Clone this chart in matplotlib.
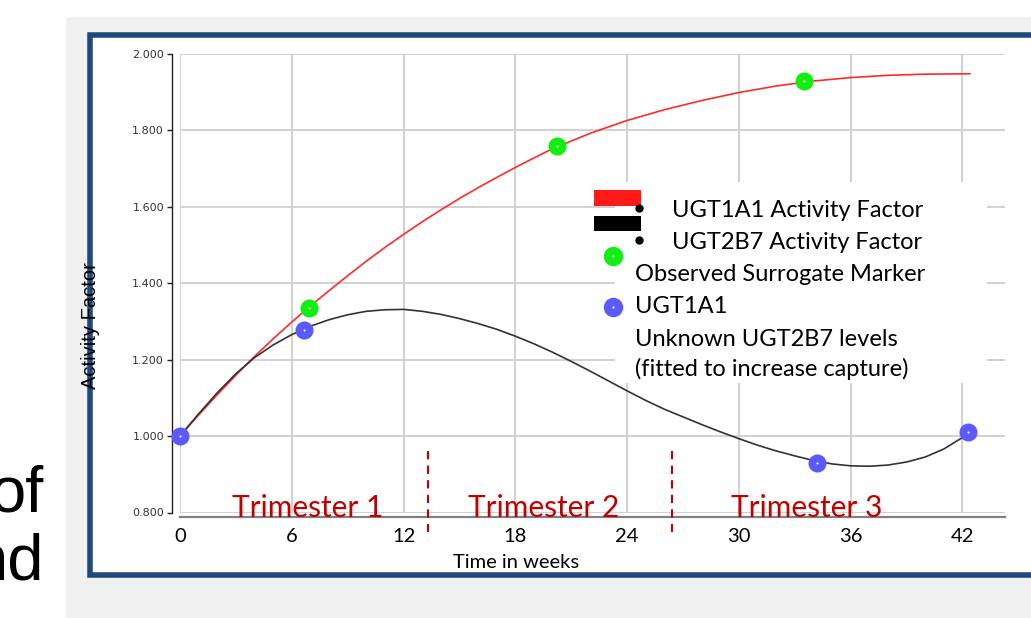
import matplotlib
matplotlib.use("Agg")
import matplotlib.pyplot as plt
from matplotlib.patches import Rectangle
from matplotlib.lines import Line2D

# data (weeks, activity factor)
red_x = [0, 1, 2, 3, 4, 5, 6, 7, 8, 9, 10, 11, 12, 13, 14, 15, 16, 17, 18, 19, 20,
         22, 24, 26, 28, 30, 32, 34, 36, 38, 40, 42.4]
red_y = [1.000, 1.055, 1.108, 1.159, 1.208, 1.254, 1.298, 1.340, 1.380, 1.419, 1.457,
         1.493, 1.527, 1.560, 1.591, 1.621, 1.649, 1.676, 1.702, 1.727, 1.751,
         1.791, 1.825, 1.853, 1.877, 1.898, 1.915, 1.928, 1.937, 1.943, 1.946, 1.947]

black_x = [0, 1, 2, 3, 4, 5, 6, 7, 8, 9, 10, 11, 12, 13, 14, 15, 16, 17, 18, 19, 20, 21,
           22, 23, 24, 25, 26, 27, 28, 29, 30, 31, 32, 33, 34, 35, 36, 37, 38, 39, 40,
           41, 42, 42.3]
black_y = [1.000, 1.058, 1.113, 1.163, 1.205, 1.238, 1.265, 1.287, 1.304, 1.317, 1.326,
           1.330, 1.331, 1.326, 1.318, 1.307, 1.294, 1.279, 1.261, 1.241, 1.219, 1.195,
           1.170, 1.144, 1.118, 1.093, 1.070, 1.050, 1.030, 1.011, 0.993, 0.976, 0.961,
           0.948, 0.936, 0.927, 0.922, 0.921, 0.924, 0.932, 0.945, 0.966, 0.996, 1.008]

green_x = [6.94, 20.25, 33.5]
green_y = [1.334, 1.758, 1.929]

blue_x = [0, 6.67, 34.2, 42.3]
blue_y = [1.000, 1.277, 0.930, 1.010]

trimester_bounds = [13.3, 26.4]
trimester_names = ["Trimester 1", "Trimester 2", "Trimester 3"]
trimester_pos = [6.87, 19.5, 33.65]

x_ticks = [0, 6, 12, 18, 24, 30, 36, 42]
y_ticks = [0.8, 1.0, 1.2, 1.4, 1.6, 1.8, 2.0]

legend_lines = ["UGT1A1 Activity Factor", "UGT2B7 Activity Factor"]
legend_rest = ["Observed Surrogate Marker", "UGT1A1", "Unknown UGT2B7 levels",
               "(fitted to increase capture)"]

W, H = 1031, 618
CAL = "Lato"


def fx(px):
    return px / W


def fy(py):
    return 1 - py / H


fig = plt.figure(figsize=(W / 100, H / 100), dpi=100)
fig.patch.set_facecolor("white")

# slide background and framed chart
fig.add_artist(Rectangle((fx(66), 0), 1 - fx(66), fy(17), transform=fig.transFigure,
                         facecolor="#f0f0f0", edgecolor="none", zorder=-3))
fig.add_artist(Rectangle((fx(90), fy(575)), fx(1045) - fx(90), fy(34.5) - fy(575),
                         transform=fig.transFigure, facecolor="white",
                         edgecolor="#1f497d", lw=4, zorder=-2))

# cut-off slide text on the left
fig.text(fx(44), fy(512), "of", ha="right", va="baseline", fontsize=47,
         family="Liberation Sans")
fig.text(fx(44), fy(580), "nd", ha="right", va="baseline", fontsize=47,
         family="Liberation Sans")

ax = fig.add_axes([fx(180), fy(512.5), 825.3 / W, 459 / H])
ax.set_facecolor("white")
ax.set_xlim(0, 44.3)
ax.set_ylim(0.8, 2.0)

ax.grid(True, color="#d2d2d2", lw=1.5)
ax.set_axisbelow(True)
for s in ["top", "right"]:
    ax.spines[s].set_visible(False)
ax.spines["left"].set_position(("outward", 6))
ax.spines["left"].set_color("#222222")
ax.spines["left"].set_linewidth(1)
ax.spines["bottom"].set_position(("outward", 3.3))
ax.spines["bottom"].set_color("#808080")
ax.spines["bottom"].set_linewidth(1.6)

ax.set_yticks(y_ticks)
ax.set_yticklabels([f"{v:.3f}" for v in y_ticks])
ax.tick_params(axis="y", length=3.5, width=1, color="#222222", labelsize=8,
               labelcolor="#333333", pad=2)
ax.set_xticks(x_ticks)
ax.set_xticklabels([str(v) for v in x_ticks], family=CAL, fontsize=14.5)
ax.tick_params(axis="x", length=0, pad=8, labelcolor="black")

ax.set_xlabel("Time in weeks", family=CAL, fontsize=14.5, va="center")
ax.xaxis.set_label_coords((516 - 180) / 825.3, (512.5 - 562) / 459)
ax.set_ylabel("Activity Factor", family="Liberation Sans", fontsize=14.5,
              va="center", ha="center")
ax.yaxis.set_label_coords((90 - 180) / 825.3, (512.5 - 326) / 459)

# curves
ax.plot(red_x, red_y, color="#ff2a2a", lw=1.2, zorder=3)
ax.plot(black_x, black_y, color="#333333", lw=1.2, zorder=3)

# markers with tiny white centre
ax.plot(green_x, green_y, "o", color="#11ee11", ms=13, mec="none", zorder=4)
ax.plot(green_x, green_y, "o", color="white", ms=1.5, mec="none", zorder=5)
ax.plot(blue_x, blue_y, "o", color="#5a5aff", ms=13, mec="none", zorder=4, clip_on=False)
ax.plot(blue_x, blue_y, "o", color="white", ms=1.5, mec="none", zorder=5, clip_on=False)

# trimester separators and labels
for b in trimester_bounds:
    ax.plot([b, b], [0.96, 0.75], color="#c00000", lw=1.5, ls=(0, (4, 3)),
            clip_on=False, zorder=4)
for name, p in zip(trimester_names, trimester_pos):
    ax.text(p, 0.787, name, ha="center", va="baseline", color="#c00000",
            family=CAL, fontsize=21.5, zorder=6)

# legend drawn as an overlay box
fig.add_artist(Rectangle((fx(615), fy(383)), fx(987) - fx(615), fy(182) - fy(383),
                         transform=fig.transFigure, facecolor="white",
                         edgecolor="none", zorder=2))
fig.add_artist(Rectangle((fx(594), fy(206)), fx(641) - fx(594), fy(190) - fy(206),
                         transform=fig.transFigure, facecolor="#ff1a1a",
                         edgecolor="none", zorder=3))
fig.add_artist(Rectangle((fx(594), fy(231)), fx(641) - fx(594), fy(216) - fy(231),
                         transform=fig.transFigure, facecolor="black",
                         edgecolor="none", zorder=3))
for yy in [208, 240]:
    fig.add_artist(Line2D([fx(639)], [fy(yy)], marker="o", ms=6, color="black",
                          mec="none", transform=fig.transFigure, zorder=4))
for yy, col in [(256, "#11ee11"), (307, "#5a5aff")]:
    fig.add_artist(Line2D([fx(612.5)], [fy(yy)], marker="o", ms=14, color=col,
                          mec="none", transform=fig.transFigure, zorder=4))
    fig.add_artist(Line2D([fx(612.5)], [fy(yy)], marker="o", ms=1.5, color="white",
                          mec="none", transform=fig.transFigure, zorder=5))

for txt, yy in zip(legend_lines, [216.7, 249.3]):
    fig.text(fx(672), fy(yy), txt, va="baseline", ha="left", family=CAL,
             fontsize=17, zorder=5)
for txt, yy in zip(legend_rest, [281, 313.3, 345.7, 376]):
    fig.text(fx(635), fy(yy), txt, va="baseline", ha="left", family=CAL,
             fontsize=17, zorder=5)

fig.savefig("out.png", dpi=100)
